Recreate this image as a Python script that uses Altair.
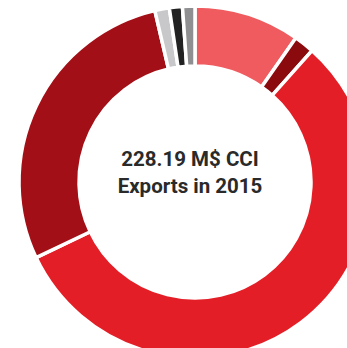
import altair as alt
import pandas as pd

categories = ["Segment 1", "Segment 2", "Segment 3", "Segment 4", "Segment 5", "Segment 6", "Segment 7"]
values = [22.18, 4.25, 128.6, 64.8, 3.04, 2.72, 2.60]
colors = ["#EF5B5F", "#8A0A0E", "#E31E26", "#A30F16", "#C8C8CA", "#222222", "#8F8F91"]
center_lines = ["228.19 M$ CCI", "Exports in 2015"]

df = pd.DataFrame({"category": categories, "value": values, "order": list(range(len(categories)))})
tdf = pd.DataFrame({"line": center_lines, "ypos": [166, 193]})

arcs = alt.Chart(df).mark_arc(
    innerRadius=116, outerRadius=176, stroke="white", strokeWidth=3.5, x=195, y=182
).encode(
    theta=alt.Theta("value:Q", stack=True),
    order=alt.Order("order:Q"),
    color=alt.Color("category:N", scale=alt.Scale(domain=categories, range=colors), legend=None),
)

text = alt.Chart(tdf).mark_text(
    font="Roboto", fontWeight="bold", fontSize=20.5, color="#2a2a2a", align="center", baseline="alphabetic"
).encode(
    x=alt.value(190),
    y=alt.Y("ypos:Q", scale=None),
    text="line:N",
)

chart = alt.layer(arcs, text).properties(
    width=347, height=348, autosize="none", padding=0
).configure_view(stroke=None)

chart.save("out.html", embed_options={"renderer": "svg", "actions": False})
